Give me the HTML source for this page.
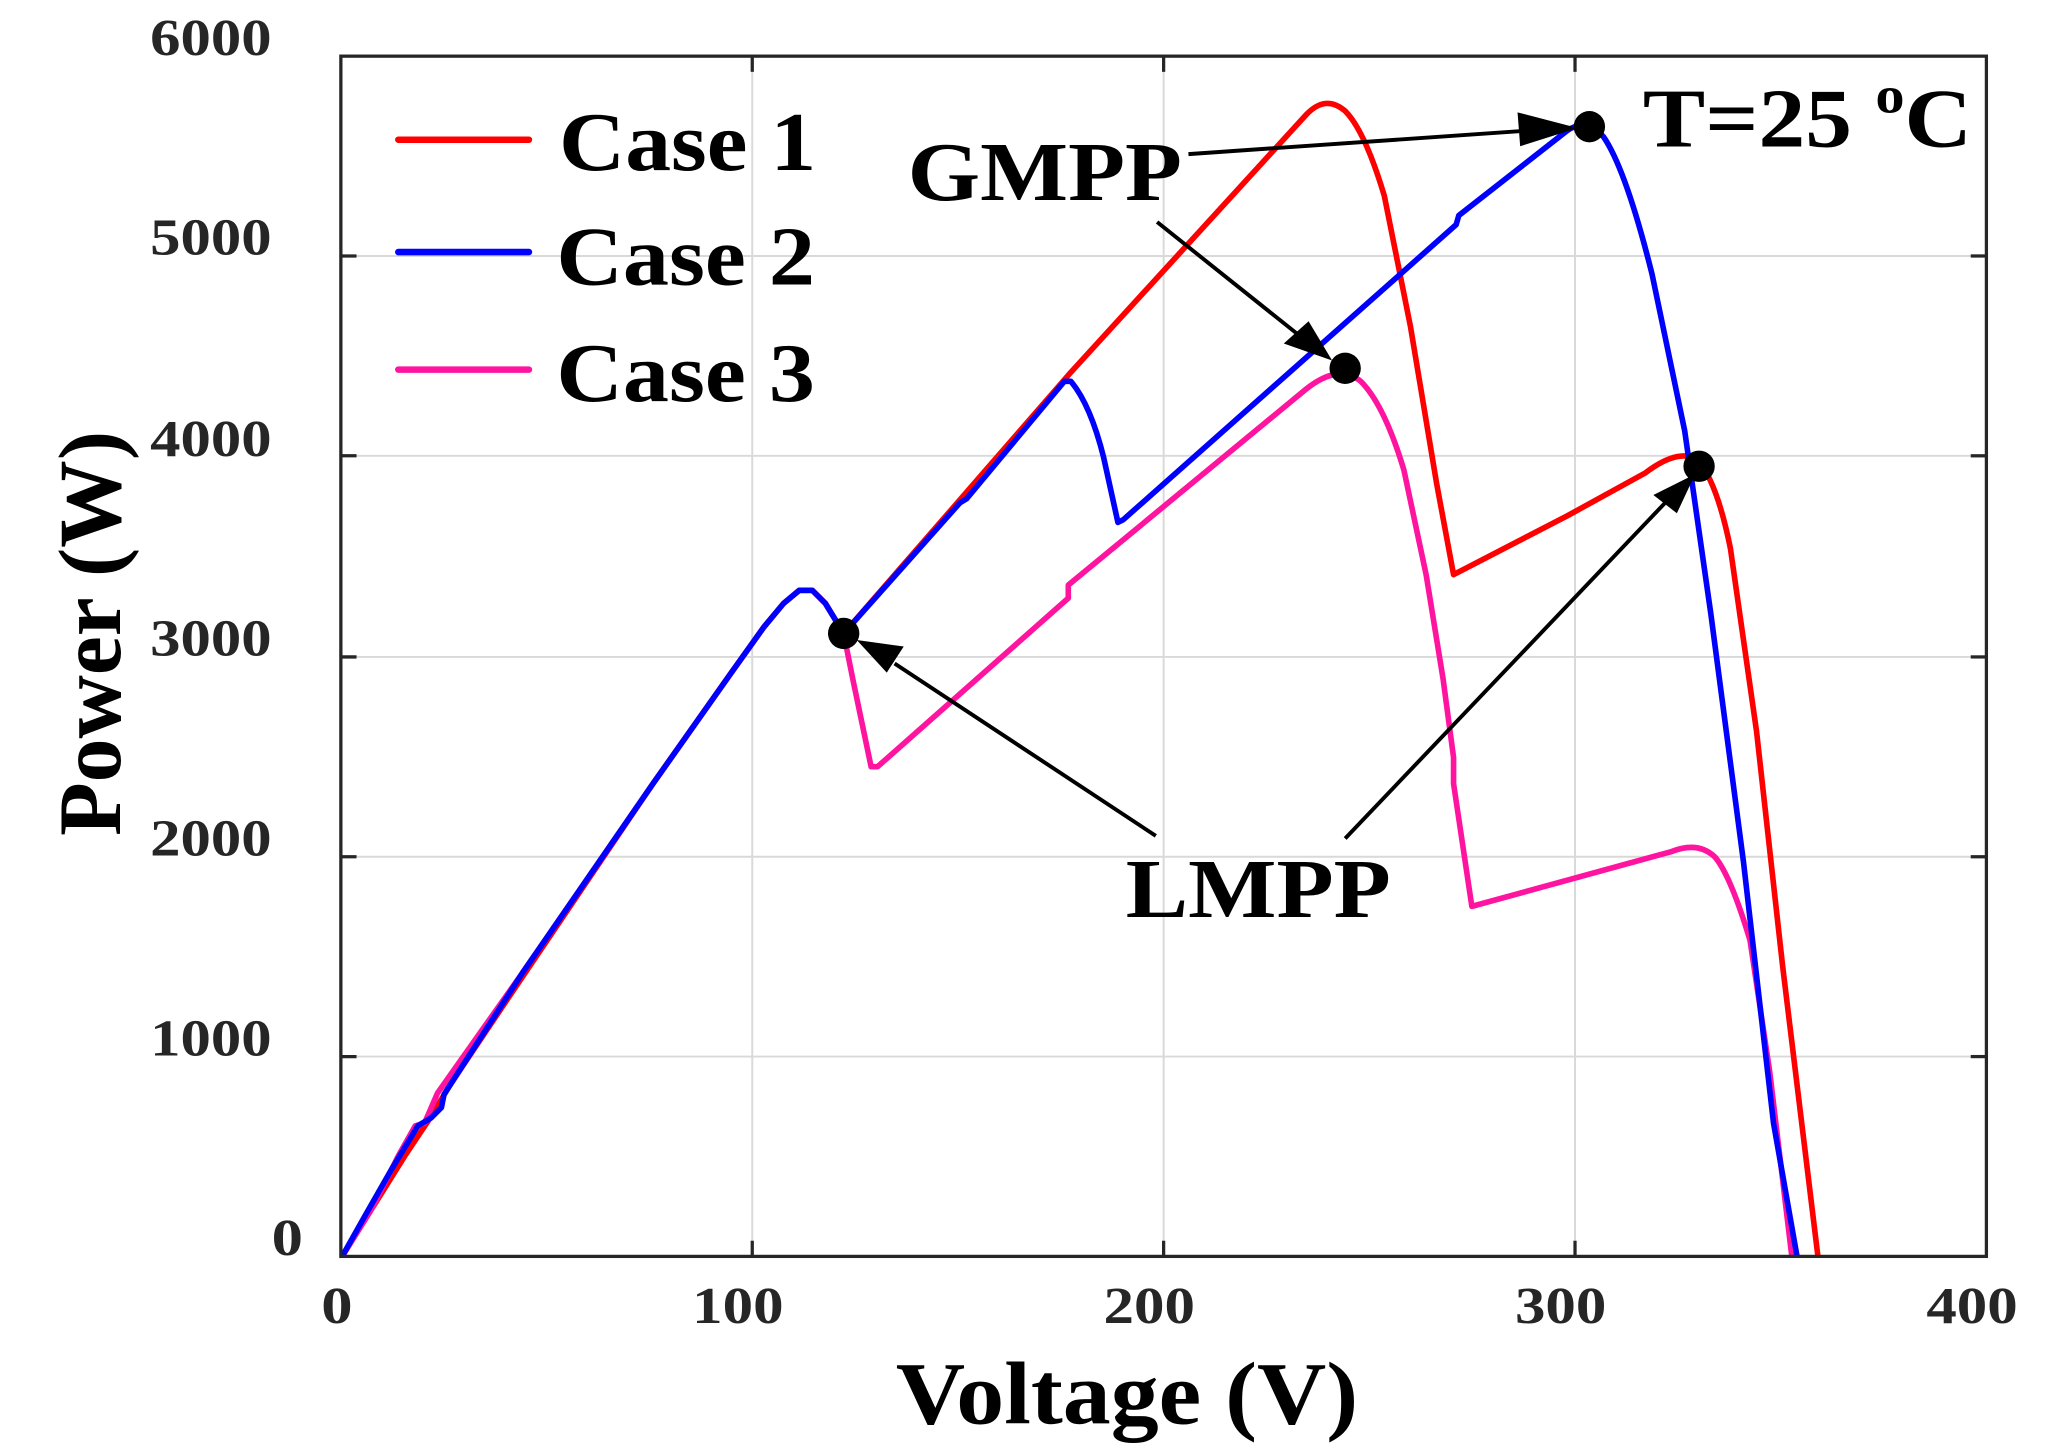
<!DOCTYPE html>
<html><head><meta charset="utf-8"><style>
html,body{margin:0;padding:0;background:#fff;}
svg{display:block;}
text{font-family:"Liberation Serif",serif;font-weight:bold;}
</style></head><body>
<svg width="2047" height="1451" viewBox="0 0 1567.4 1111" preserveAspectRatio="none" xmlns="http://www.w3.org/2000/svg">
<g stroke="#d9d9d9" stroke-width="1.5">
<line x1="576" y1="43" x2="576" y2="962"/><line x1="891" y1="43" x2="891" y2="962"/><line x1="1206" y1="43" x2="1206" y2="962"/>
<line x1="261" y1="196" x2="1521" y2="196"/><line x1="261" y1="349" x2="1521" y2="349"/><line x1="261" y1="503" x2="1521" y2="503"/><line x1="261" y1="656" x2="1521" y2="656"/><line x1="261" y1="809" x2="1521" y2="809"/>
</g>
<g stroke="#262626" stroke-width="2.5">
<line x1="576" y1="962" x2="576" y2="950"/><line x1="891" y1="962" x2="891" y2="950"/><line x1="1206" y1="962" x2="1206" y2="950"/>
<line x1="576" y1="43" x2="576" y2="55"/><line x1="891" y1="43" x2="891" y2="55"/><line x1="1206" y1="43" x2="1206" y2="55"/>
<line x1="261" y1="196" x2="273" y2="196"/><line x1="261" y1="349" x2="273" y2="349"/><line x1="261" y1="503" x2="273" y2="503"/><line x1="261" y1="656" x2="273" y2="656"/><line x1="261" y1="809" x2="273" y2="809"/>
<line x1="1521" y1="196" x2="1509" y2="196"/><line x1="1521" y1="349" x2="1509" y2="349"/><line x1="1521" y1="503" x2="1509" y2="503"/><line x1="1521" y1="656" x2="1509" y2="656"/><line x1="1521" y1="809" x2="1509" y2="809"/>
</g>
<g fill="none" stroke-width="4.3" stroke-linejoin="round">
<path stroke="#ff0000" d="M262,962 L310,885 L330,855 L345,830 L400,748 L500,600 L560,515 L585,480 L600,462 L612,452 L622,452 L632,462 L646,485 L820,285 L1000,88 Q1015,72 1030,85 Q1045,100 1060,150 L1080,250 L1100,370 L1113,440 L1200,395 L1260,362 Q1285,343 1300,352 Q1315,370 1325,420 L1345,560 L1365,740 L1392,962"/>
<path stroke="#ff14a0" d="M262,962 L285,925 L305,885 L318,862 L325,860 L335,837 L400,745 L500,600 L560,515 L585,480 L600,462 L612,452 L622,452 L632,462 L646,485 L653,520 L667,587 L672,587 L818,458 L818,448 L1000,298 Q1025,278 1042,292 Q1060,310 1075,360 L1092,440 L1105,520 L1113,580 L1113,600 L1127,694 L1280,652 Q1300,644 1313,656 Q1325,670 1340,720 L1355,820 L1372,962"/>
<path stroke="#0000ff" d="M262,962 L280,930 L300,895 L320,862 L330,856 L338,848 L340,838 L400,745 L500,600 L560,515 L585,480 L600,462 L612,452 L622,452 L632,462 L646,485 L735,385 L740,382 L815,292 L820,292 Q835,310 845,350 L856,400 L860,398 L1115,172 L1117,165 L1200,100 Q1215,90 1228,105 Q1245,130 1265,210 L1290,330 L1310,470 L1335,660 L1358,860 L1376,962"/>
</g>
<rect x="261" y="43" width="1260" height="919" fill="none" stroke="#262626" stroke-width="2.5"/>
<g fill="#000">
<circle cx="646" cy="485" r="12"/><circle cx="1030" cy="282" r="12"/><circle cx="1217" cy="97" r="12"/><circle cx="1301" cy="357" r="12"/>
</g>
<g stroke="#000" stroke-width="3">
<line x1="910" y1="118" x2="1170" y2="100"/>
<line x1="886" y1="170" x2="995" y2="257"/>
<line x1="885" y1="640" x2="685" y2="508"/>
<line x1="1030" y1="642" x2="1275" y2="385"/>
</g>
<g fill="#000">
<polygon points="1208,98 1162,86 1164,112"/>
<polygon points="1020,276 983,263 1002,246"/>
<polygon points="656,490 692,495 679,515"/>
<polygon points="1298,363 1266,379 1284,393"/>
</g>
<g stroke-width="5" stroke-linecap="round">
<line x1="305" y1="107" x2="405" y2="107" stroke="#ff0000"/>
<line x1="305" y1="193" x2="405" y2="193" stroke="#0000ff"/>
<line x1="305" y1="283" x2="405" y2="283" stroke="#ff14a0"/>
</g>
<g font-size="64" fill="#000" lengthAdjust="spacingAndGlyphs">
<text x="428" y="130" textLength="197" lengthAdjust="spacingAndGlyphs">Case 1</text>
<text x="426" y="218" textLength="198" lengthAdjust="spacingAndGlyphs">Case 2</text>
<text x="426" y="307" textLength="198" lengthAdjust="spacingAndGlyphs">Case 3</text>
<text x="695" y="153" textLength="210" lengthAdjust="spacingAndGlyphs">GMPP</text>
<text x="862" y="702" textLength="203" lengthAdjust="spacingAndGlyphs">LMPP</text>
<text x="1258" y="112" textLength="252" lengthAdjust="spacingAndGlyphs">T=25 <tspan font-size="40" dy="-26">o</tspan><tspan dy="26">C</tspan></text>
</g>
<g font-size="40" fill="#262626" text-anchor="end">
<text x="208" y="42" textLength="93" lengthAdjust="spacingAndGlyphs">6000</text><text x="208" y="195" textLength="93" lengthAdjust="spacingAndGlyphs">5000</text><text x="208" y="349" textLength="93" lengthAdjust="spacingAndGlyphs">4000</text><text x="208" y="502" textLength="93" lengthAdjust="spacingAndGlyphs">3000</text><text x="208" y="655" textLength="93" lengthAdjust="spacingAndGlyphs">2000</text><text x="208" y="808" textLength="93" lengthAdjust="spacingAndGlyphs">1000</text><text x="232" y="961" textLength="24" lengthAdjust="spacingAndGlyphs">0</text>
</g>
<g font-size="40" fill="#262626">
<text x="246" y="1013" textLength="24" lengthAdjust="spacingAndGlyphs">0</text><text x="530" y="1013" textLength="70" lengthAdjust="spacingAndGlyphs">100</text><text x="845" y="1013" textLength="70" lengthAdjust="spacingAndGlyphs">200</text><text x="1160" y="1013" textLength="70" lengthAdjust="spacingAndGlyphs">300</text><text x="1475" y="1013" textLength="70" lengthAdjust="spacingAndGlyphs">400</text>
</g>
<text x="686" y="1090" font-size="68" fill="#000" textLength="354" lengthAdjust="spacingAndGlyphs">Voltage (V)</text>
<text transform="translate(92,640) rotate(-90)" font-size="68" fill="#000" textLength="310" lengthAdjust="spacingAndGlyphs">Power (W)</text>
</svg>
</body></html>
